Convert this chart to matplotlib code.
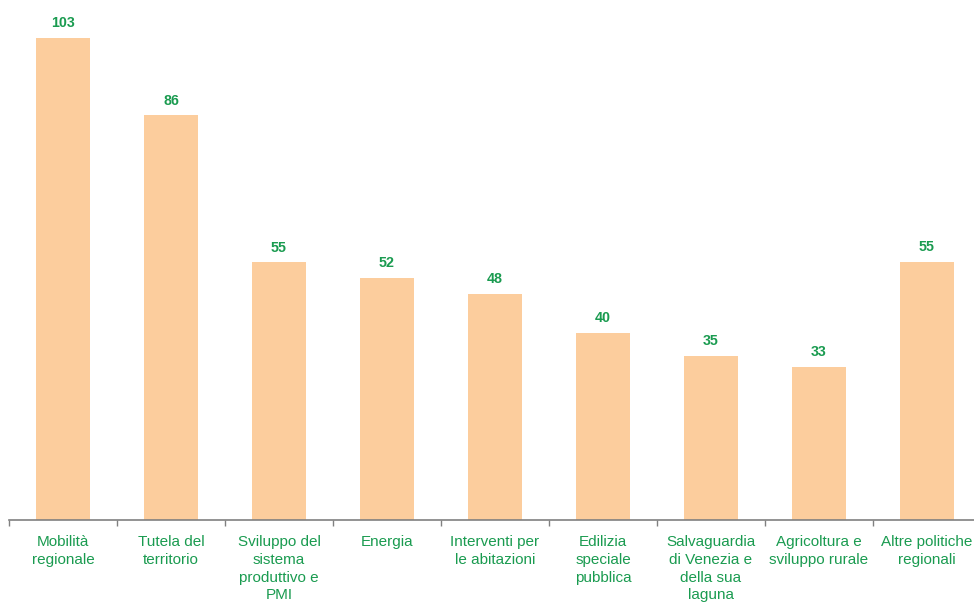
import numpy as np
import matplotlib.pyplot as plt

plt.rcParams['font.family'] = ['Liberation Sans', 'DejaVu Sans']

# values
categories = [
    "Mobilità\nregionale",
    "Tutela del\nterritorio",
    "Sviluppo del\nsistema\nproduttivo e\nPMI",
    "Energia",
    "Interventi per\nle abitazioni",
    "Edilizia\nspeciale\npubblica",
    "Salvaguardia\ndi Venezia e\ndella sua\nlaguna",
    "Agricoltura e\nsviluppo rurale",
    "Altre politiche\nregionali",
]
values = [103.0, 86.4, 55.0, 51.7, 48.2, 39.9, 35.0, 32.6, 55.1]

bar_color = '#FCCD9D'
text_green = '#1A9B50'
axis_grey = '#808080'

fig = plt.figure(figsize=(9.74, 6.05), dpi=100)
ax = fig.add_axes([9 / 974, 85.5 / 605, 972 / 974, 519.5 / 605])

x = np.arange(len(values))
bars = ax.bar(x, values, width=0.5, color=bar_color, zorder=2)

for b, v in zip(bars, values):
    ax.annotate(f"{v:.0f}", (b.get_x() + b.get_width() / 2, v),
                xytext=(0, 5.5), textcoords='offset points',
                ha='center', va='bottom', fontsize=10.3, fontweight='bold',
                color=text_green)

# category names under each bar
for xi, name in zip(x, categories):
    ax.annotate(name, (xi, 0), xycoords=('data', 'axes fraction'),
                xytext=(0, -11.5), textcoords='offset points',
                ha='center', va='top', fontsize=11, color=text_green,
                linespacing=1.33, annotation_clip=False)

ax.set_xlim(-0.5, len(values) - 0.5)
ax.set_ylim(0, 111.1)

# boundary ticks on the axis line
ax.set_xticks(x - 0.5)
ax.set_xticklabels([])
ax.tick_params(axis='x', which='major', direction='out', length=4,
               width=1, color=axis_grey)

ax.set_yticks([])
for side in ['top', 'right', 'left']:
    ax.spines[side].set_visible(False)
ax.spines['bottom'].set_color(axis_grey)
ax.spines['bottom'].set_linewidth(1.2)

fig.savefig('out.png', dpi=100)
